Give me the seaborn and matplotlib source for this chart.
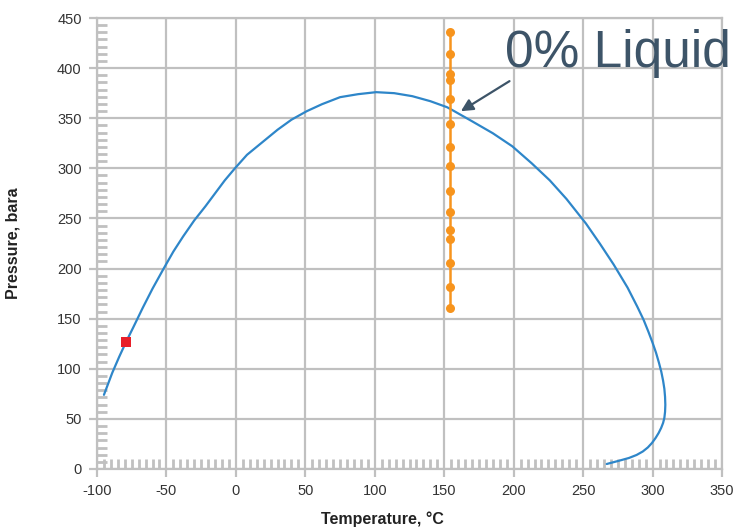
import matplotlib
matplotlib.use("Agg")
import matplotlib.pyplot as plt
import seaborn as sns
import pandas as pd
from matplotlib.ticker import AutoMinorLocator

# Phase envelope (blue curve)
env_T = [-95, -89, -84, -79, -74, -67, -60, -52, -45, -38, -30, -22, -15, -8, -0.7,
         8, 19, 30, 40, 51, 62, 75, 88, 101, 114, 127, 140, 152, 156, 170, 185,
         199, 213, 226, 238, 252, 262, 272, 282, 289, 293.5, 297, 300, 302.5, 304.6,
         306.3, 307.6, 308.5, 309, 309.2, 309, 308.5, 307.6, 306.2, 304.4, 302.2, 299.6,
         296.6, 293, 288.5, 283, 276, 267]
env_P = [74, 96, 112, 127, 141, 161, 180, 200, 217, 232, 248, 262, 275, 288, 300,
         313.5, 326, 338.5, 348.5, 357, 364, 371, 374, 376, 375, 372, 367, 361, 358, 347, 335,
         322, 305, 288, 269.5, 245, 225, 204, 181, 162, 149, 137, 126, 116, 106,
         97, 88, 80, 72, 64, 57, 51, 46, 41, 36, 31, 26,
         21.5, 17.5, 14, 11, 8.3, 5]

# Isothermal points (orange)
iso_T = [154.5] * 15
iso_P = [436, 414, 394, 388, 369, 344, 321, 302, 277, 256, 238, 229, 206, 182, 161]

# Single red point
red_T = [-79]
red_P = [127]

x_ticks = list(range(-100, 351, 50))
y_ticks = list(range(0, 451, 50))

sns.set_style("white")
plt.rcParams['font.family'] = ['Liberation Sans', 'DejaVu Sans']

fig = plt.figure(figsize=(7.41, 5.28), dpi=100)
ax = fig.add_axes([97/741, (528-469)/528, (722-97)/741, (469-18)/528])

grid_c = "#c0c0c0"
env_df = pd.DataFrame({"T": env_T, "P": env_P})
iso_df = pd.DataFrame({"T": iso_T, "P": iso_P})
red_df = pd.DataFrame({"T": red_T, "P": red_P})

sns.lineplot(data=env_df, x="T", y="P", sort=False, estimator=None, ax=ax,
             color="#2e86c9", linewidth=1.6, zorder=3)
sns.lineplot(data=iso_df, x="T", y="P", sort=False, estimator=None, ax=ax,
             color="#f7941d", linewidth=1.8, marker="o", markersize=6.5,
             markeredgewidth=0, zorder=4)
sns.scatterplot(data=red_df, x="T", y="P", ax=ax, color="#e8202a", s=45,
                marker="s", linewidth=0, zorder=5)

ax.set_xlim(-100, 350)
ax.set_ylim(0, 450)
ax.set_xticks(x_ticks)
ax.set_yticks(y_ticks)
ax.set_xticklabels([str(v) for v in x_ticks])
ax.set_yticklabels([str(v) for v in y_ticks])
ax.xaxis.set_minor_locator(AutoMinorLocator(10))
ax.yaxis.set_minor_locator(AutoMinorLocator(7))

ax.grid(True, which="major", color=grid_c, linewidth=1.6)
ax.set_axisbelow(True)
for s in ax.spines.values():
    s.set_color(grid_c)
    s.set_linewidth(1.6)

ax.tick_params(axis="both", which="both", bottom=True, left=True, top=False, right=False)
ax.tick_params(axis="both", which="major", direction="out", length=6, width=1.6,
               color=grid_c, labelsize=10.5, labelcolor="#333333", pad=5)
ax.tick_params(axis="both", which="minor", direction="in", length=7, width=2.0,
               color=grid_c)

ax.set_xlabel("Temperature, °C", fontsize=11.5, fontweight="bold", color="#222222")
ax.set_ylabel("Pressure, bara", fontsize=11.5, fontweight="bold", color="#222222")
ax.xaxis.set_label_coords((382-97)/625, -0.095)
ax.yaxis.set_label_coords(-0.122, 0.5)

ax.annotate("", xy=(162, 357), xytext=(197, 387),
            arrowprops=dict(arrowstyle="-|>", color="#3d5468", lw=1.6,
                            mutation_scale=18, shrinkA=0, shrinkB=0), zorder=6)
ax.text(194, 401, "0% Liquid", fontsize=37, color="#3d5468", ha="left",
        va="baseline", clip_on=False, zorder=6)

fig.savefig("out.png", dpi=100)
